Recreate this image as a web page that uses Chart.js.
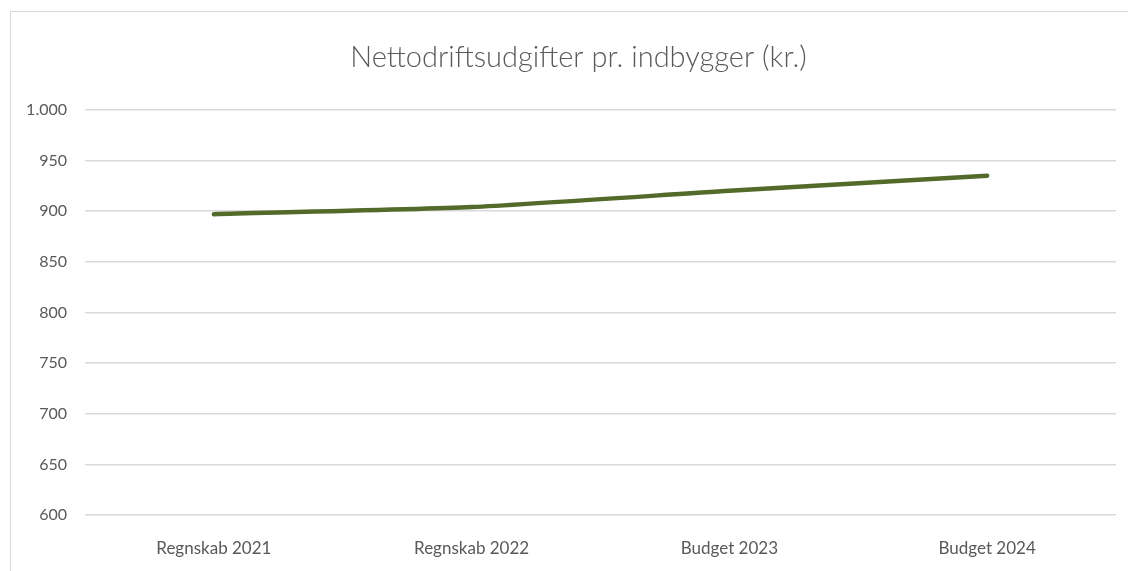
<!DOCTYPE html>
<html>
<head>
<meta charset="utf-8">
<script src="https://cdn.jsdelivr.net/npm/chart.js@4"></script>
<style>
  html, body { margin: 0; padding: 0; background: #ffffff; overflow: hidden; }
  #wrap { position: relative; width: 1128px; height: 571px; }
  #frame { position: absolute; left: 10px; top: 11px; width: 1200px; height: 700px; border: 1px solid #d9d9d9; box-sizing: border-box; }
  canvas { position: absolute; left: 0; top: 0; }
</style>
</head>
<body>
<div id="wrap">
  <div id="frame"></div>
  <canvas id="c" width="1128" height="571"></canvas>
</div>
<script>
const chartTitle = "Nettodriftsudgifter pr. indbygger (kr.)";
const categories = ["Regnskab 2021", "Regnskab 2022", "Budget 2023", "Budget 2024"];
const values = [897, 904, 920, 935];
const yMin = 600;
const yMax = 1000;
const yStep = 50;

function fmtDa(v) {
  return String(Math.round(v)).replace(/\B(?=(\d{3})+(?!\d))/g, ".");
}

// let the y tick labels extend left of the (narrow) y scale box without being clipped
const unclipYLabels = {
  id: "unclipYLabels",
  beforeDraw(chart) {
    const s = chart.scales.y;
    if (s) s._computeLabelArea = () => undefined;
  }
};

new Chart(document.getElementById("c"), {
  type: "line",
  data: {
    labels: categories,
    datasets: [{
      data: values,
      borderColor: "#536A2B",
      borderWidth: 4.5,
      borderCapStyle: "round",
      borderJoinStyle: "round",
      pointRadius: 0,
      tension: 0.2,
      fill: false
    }]
  },
  options: {
    responsive: false,
    animation: false,
    layout: { padding: { left: 41, right: 12, top: 0, bottom: 0 } },
    plugins: {
      legend: { display: false },
      tooltip: { enabled: false },
      title: {
        display: true,
        text: chartTitle,
        color: "#595959",
        font: { family: "Lato", size: 29, weight: "300" },
        padding: { top: 40, bottom: 35 }
      }
    },
    scales: {
      x: {
        offset: true,
        grid: { display: false, drawTicks: false },
        border: { display: false },
        afterFit: (scale) => { scale.height = 56; },
        ticks: {
          color: "#595959",
          font: { family: "Lato", size: 17 },
          padding: 23,
          maxRotation: 0
        }
      },
      y: {
        min: yMin,
        max: yMax,
        grid: { color: "#d9d9d9", lineWidth: 1.5, drawTicks: false },
        border: { display: false },
        afterFit: (scale) => { scale.width = 44; },
        ticks: {
          stepSize: yStep,
          color: "#595959",
          font: { family: "Lato", size: 16 },
          padding: 18,
          callback: (v) => fmtDa(v)
        }
      }
    }
  },
  plugins: [unclipYLabels]
});
</script>
</body>
</html>
